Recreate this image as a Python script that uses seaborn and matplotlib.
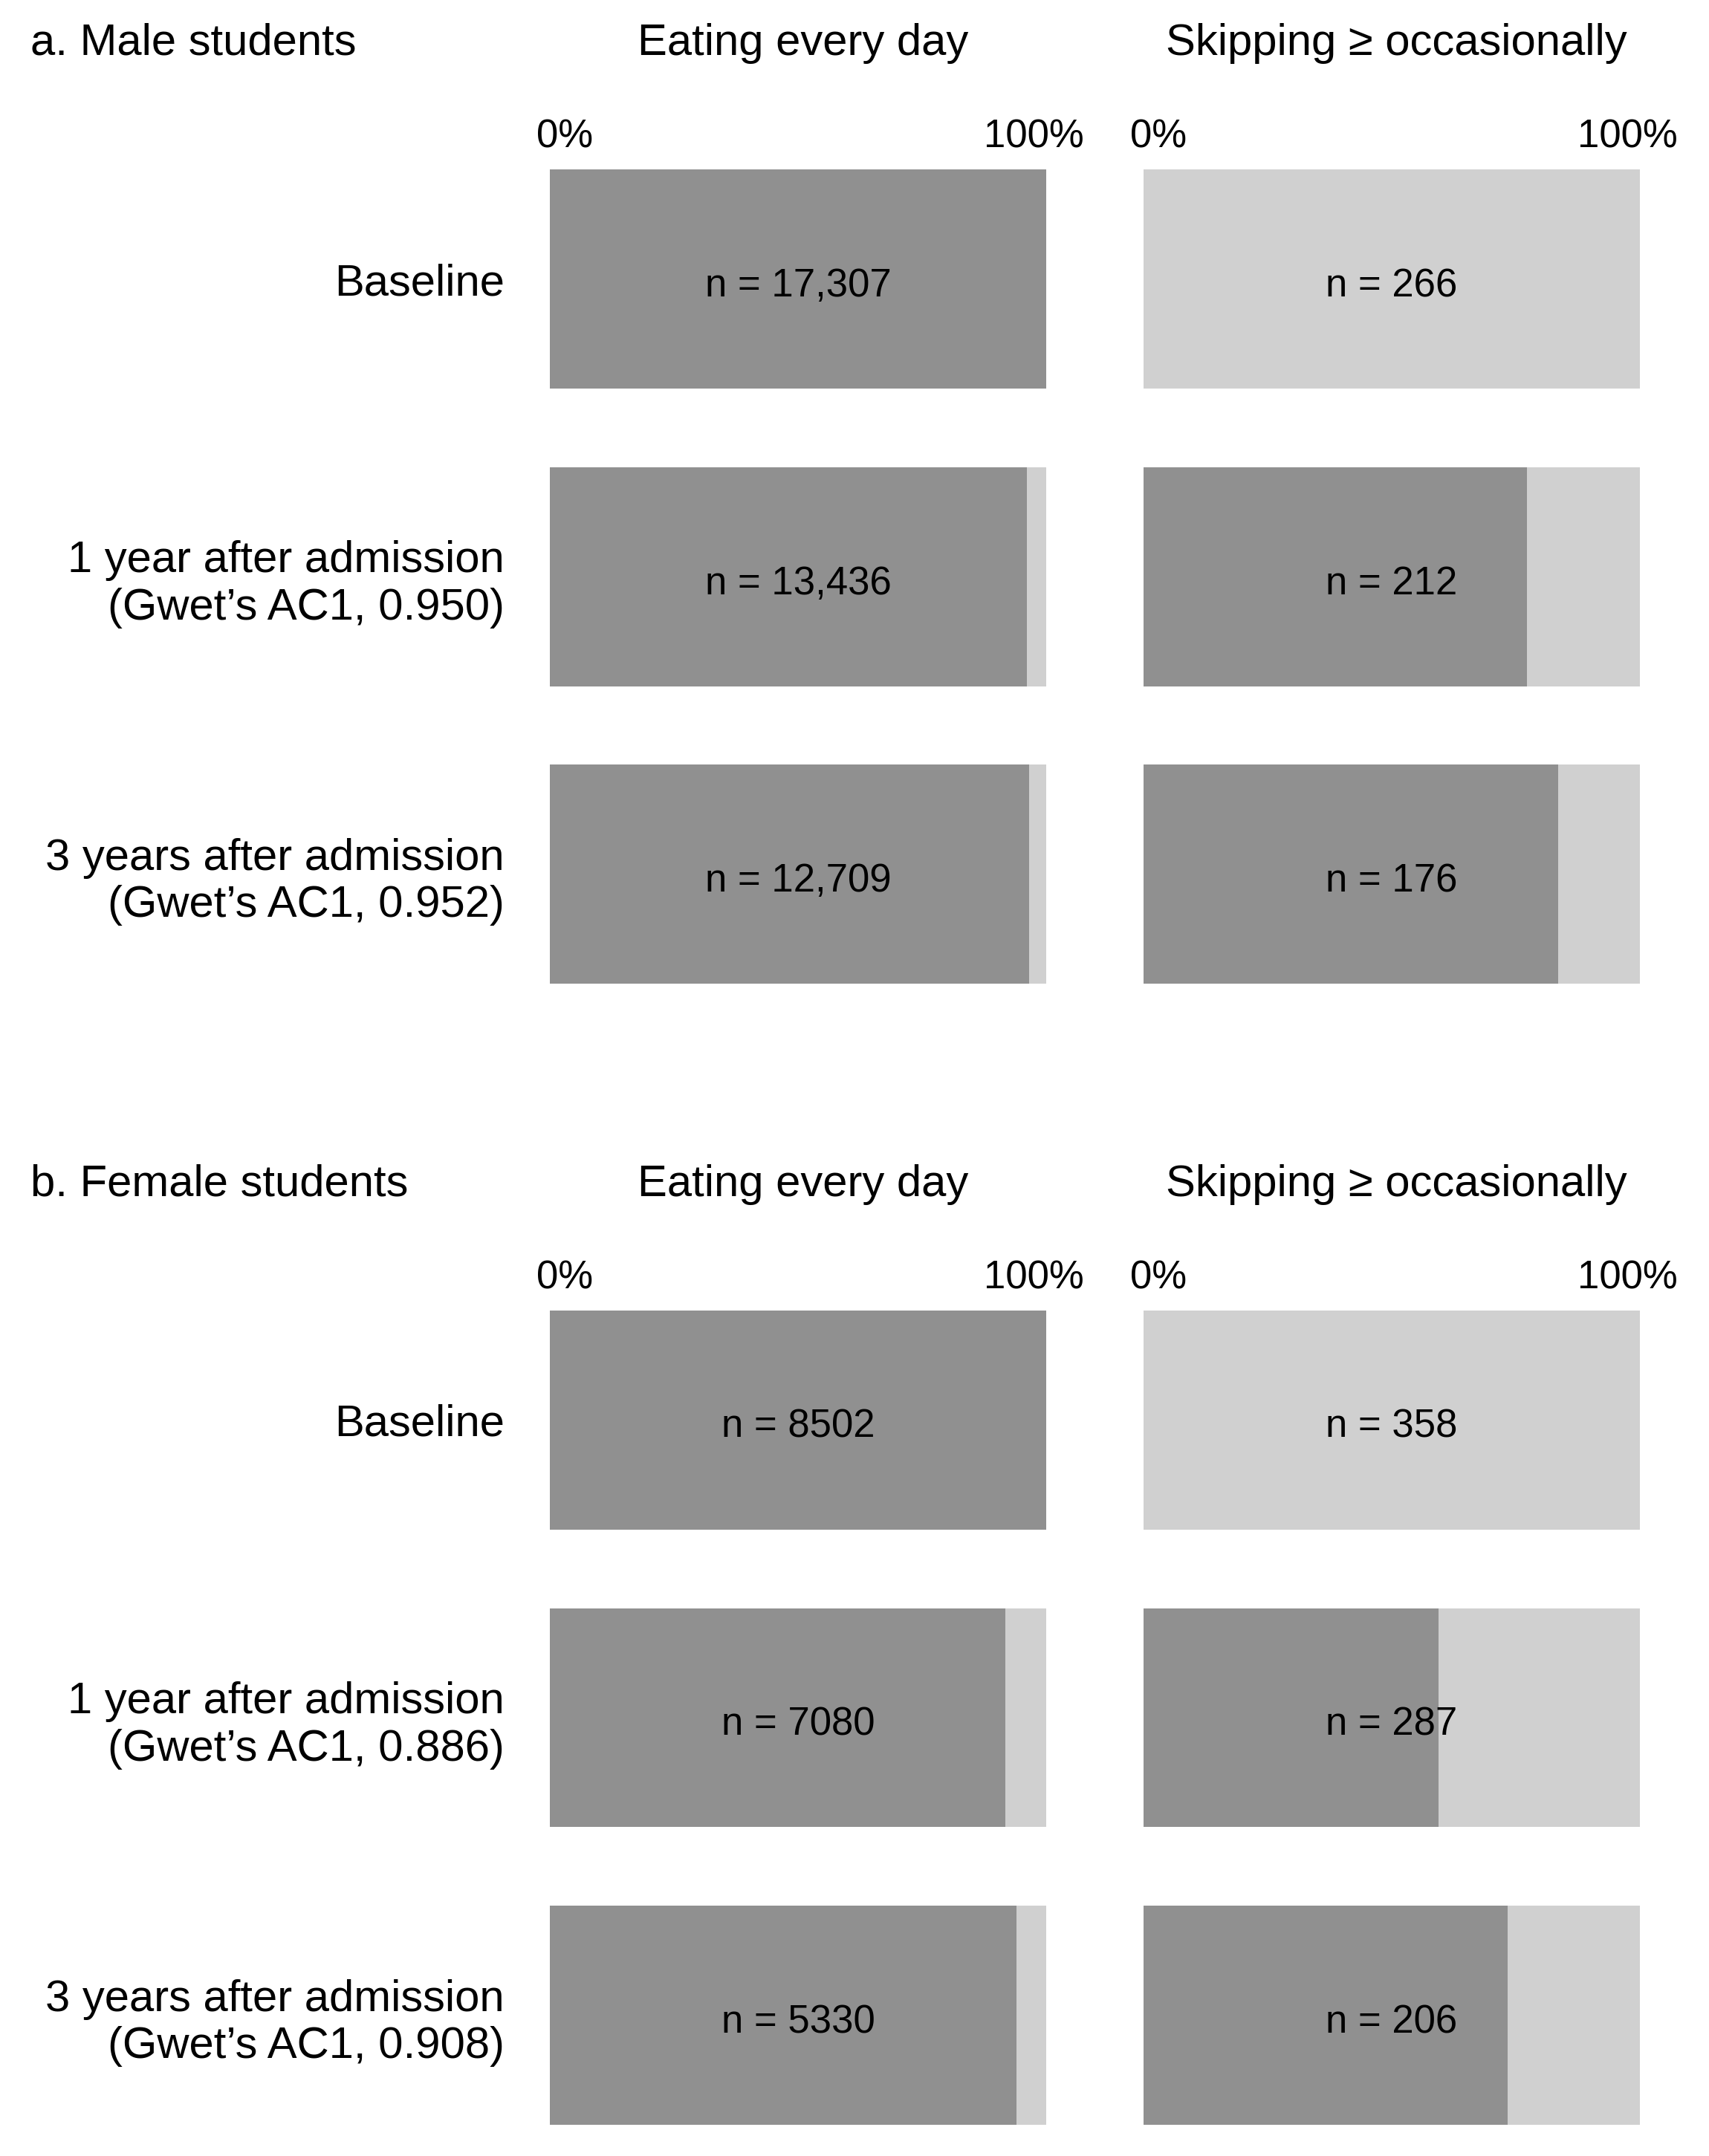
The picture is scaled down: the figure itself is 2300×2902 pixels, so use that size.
import pandas as pd
import matplotlib
matplotlib.use("Agg")
import matplotlib.pyplot as plt
import seaborn as sns

sns.set_style("white")
plt.rcParams["font.family"] = ["Liberation Sans", "DejaVu Sans"]
plt.rcParams["text.color"] = "black"
plt.rcParams["ytick.color"] = "black"

rows_male = ["Baseline",
             "1 year after admission\n(Gwet\u2019s AC1, 0.950)",
             "3 years after admission\n(Gwet\u2019s AC1, 0.952)"]
rows_female = ["Baseline",
               "1 year after admission\n(Gwet\u2019s AC1, 0.886)",
               "3 years after admission\n(Gwet\u2019s AC1, 0.908)"]

# share still eating every day at each time point
male_eat_share = [1.0, 0.961, 0.966]
male_skip_share = [0.0, 0.772, 0.835]
female_eat_share = [1.0, 0.918, 0.940]
female_skip_share = [0.0, 0.594, 0.733]

male_eat_n = ["17,307", "13,436", "12,709"]
male_skip_n = ["266", "212", "176"]
female_eat_n = ["8502", "7080", "5330"]
female_skip_n = ["358", "287", "206"]

dark = "#909090"
light = "#d0d0d0"
fs_big = 43
fs_small = 38
bw = 0.736

fig = plt.figure(figsize=(23, 29.02), dpi=100)


def panel(rect, rows, share, nlabels, title, show_rows):
    ax = fig.add_axes(rect)
    df = pd.DataFrame({"row": rows, "share": share, "full": [1.0] * len(rows)})
    sns.barplot(data=df, x="full", y="row", color=light, width=bw,
                saturation=1, orient="h", linewidth=0, ax=ax)
    sns.barplot(data=df, x="share", y="row", color=dark, width=bw,
                saturation=1, orient="h", linewidth=0, ax=ax)
    ax.set_xlim(0, 1)
    ax.set_ylim(len(rows) - 1 + bw / 2, -bw / 2)
    for i, n in enumerate(nlabels):
        ax.text(0.5, i + 0.01, f"n = {n}", ha="center", va="center_baseline",
                fontsize=fs_small)
    ax.text(0.51, 1.155, title, transform=ax.transAxes, ha="center",
            va="center", fontsize=fs_big)
    ax.text(0.03, 1.040, "0%", transform=ax.transAxes, ha="center",
            va="center", fontsize=fs_small)
    ax.text(0.975, 1.040, "100%", transform=ax.transAxes, ha="center",
            va="center", fontsize=fs_small)
    ax.set_xlabel("")
    ax.set_ylabel("")
    ax.set_xticks([])
    if show_rows:
        ax.tick_params(axis="y", length=0, pad=44, labelsize=fs_big)
    else:
        ax.set_yticklabels([])
        ax.tick_params(axis="y", length=0)
    sns.despine(ax=ax, left=True, bottom=True)
    return ax


x_left = 740 / 2300
x_right = 1539 / 2300
w = 668 / 2300
h = 1096 / 2902

panel([x_left, 0.5437, w, h], rows_male, male_eat_share, male_eat_n,
      "Eating every day", True)
panel([x_right, 0.5437, w, h], rows_male, male_skip_share, male_skip_n,
      "Skipping \u2265 occasionally", False)
panel([x_left, 0.0145, w, h], rows_female, female_eat_share, female_eat_n,
      "Eating every day", True)
panel([x_right, 0.0145, w, h], rows_female, female_skip_share, female_skip_n,
      "Skipping \u2265 occasionally", False)

fig.text(41 / 2300, 1 - 58 / 2902, "a. Male students", ha="left",
         va="center", fontsize=fs_big)
fig.text(41 / 2300, 1 - 1594 / 2902, "b. Female students", ha="left",
         va="center", fontsize=fs_big)

fig.savefig("out.png", dpi=100, facecolor="white")
